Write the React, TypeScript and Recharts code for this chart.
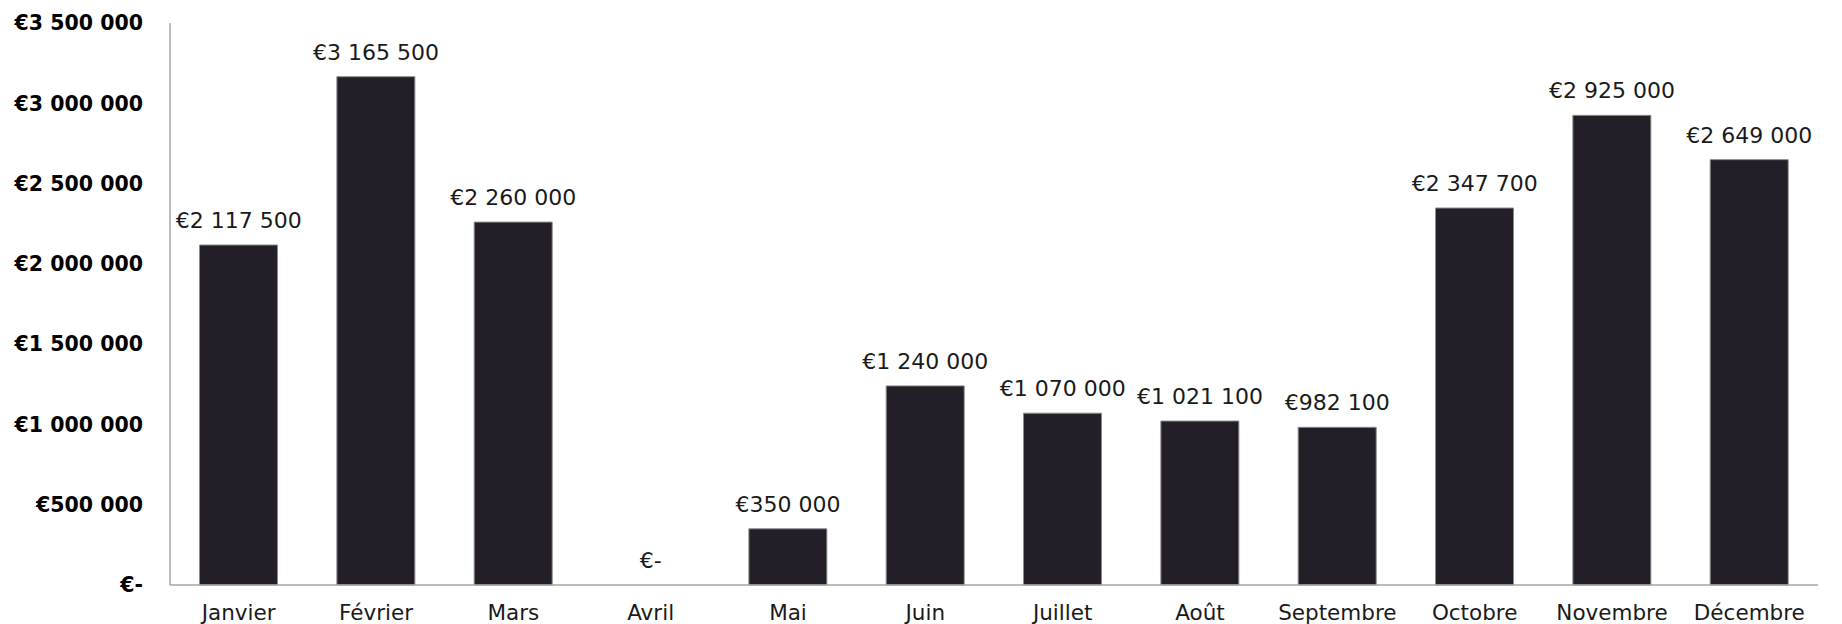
import { ComposedChart, Bar, Line, XAxis, YAxis, LabelList } from 'recharts'

// Mois et montants
const mois = ['Janvier', 'Février', 'Mars', 'Avril', 'Mai', 'Juin', 'Juillet', 'Août', 'Septembre', 'Octobre', 'Novembre', 'Décembre']
const montants = [2117500, 3165500, 2260000, 0, 350000, 1240000, 1070000, 1021100, 982100, 2347700, 2925000, 2649000]
const graduations = [0, 500000, 1000000, 1500000, 2000000, 2500000, 3000000, 3500000]

const donnees = mois.map((m, i) => ({ mois: m, montant: montants[i] }))

const FONT = '"DejaVu Sans", "Noto Sans", sans-serif'

const formatEuro = (value: number) => {
  if (!value) return '€-'
  return '€' + String(value).replace(/\B(?=(\d{3})+(?!\d))/g, ' ')
}

// étiquette au-dessus de chaque barre (aussi pour Avril à zéro)
const Etiquette = (props: any) => {
  const { x, y, value } = props
  return (
    <text
      x={Number(x)}
      y={Number(y) - 17}
      textAnchor="middle"
      fill="#1a1a1a"
      fontSize={22}
      fontFamily={FONT}
    >
      {formatEuro(Number(value))}
    </text>
  )
}

export default function App() {
  return (
    <div style={{ position: 'absolute', left: 0, top: 0, width: 1842, height: 624, background: '#fff' }}>
      <ComposedChart
        width={1842}
        height={624}
        data={donnees}
        margin={{ top: 23, right: 24, left: 0, bottom: 9 }}
        barCategoryGap="21.5%"
      >
        <XAxis
          dataKey="mois"
          height={30}
          axisLine={{ stroke: '#a6a6a6', strokeWidth: 1.5 }}
          tickLine={false}
          tickMargin={14}
          tick={{ fill: '#1a1a1a', fontSize: 21.5, fontFamily: FONT }}
          interval={0}
        />
        <YAxis
          width={170}
          domain={[0, 3500000]}
          ticks={graduations}
          tickFormatter={formatEuro}
          axisLine={{ stroke: '#a6a6a6', strokeWidth: 1.5 }}
          tickLine={false}
          tickSize={0}
          tickMargin={27}
          tick={{ fill: '#000', fontSize: 20.5, fontWeight: 'bold', fontFamily: FONT }}
        />
        <Bar dataKey="montant" fill="#241e29" stroke="#8c8c8c" strokeWidth={1} isAnimationActive={false} />
        <Line dataKey="montant" stroke="none" dot={false} activeDot={false} isAnimationActive={false}>
          <LabelList dataKey="montant" content={Etiquette} />
        </Line>
      </ComposedChart>
    </div>
  )
}
